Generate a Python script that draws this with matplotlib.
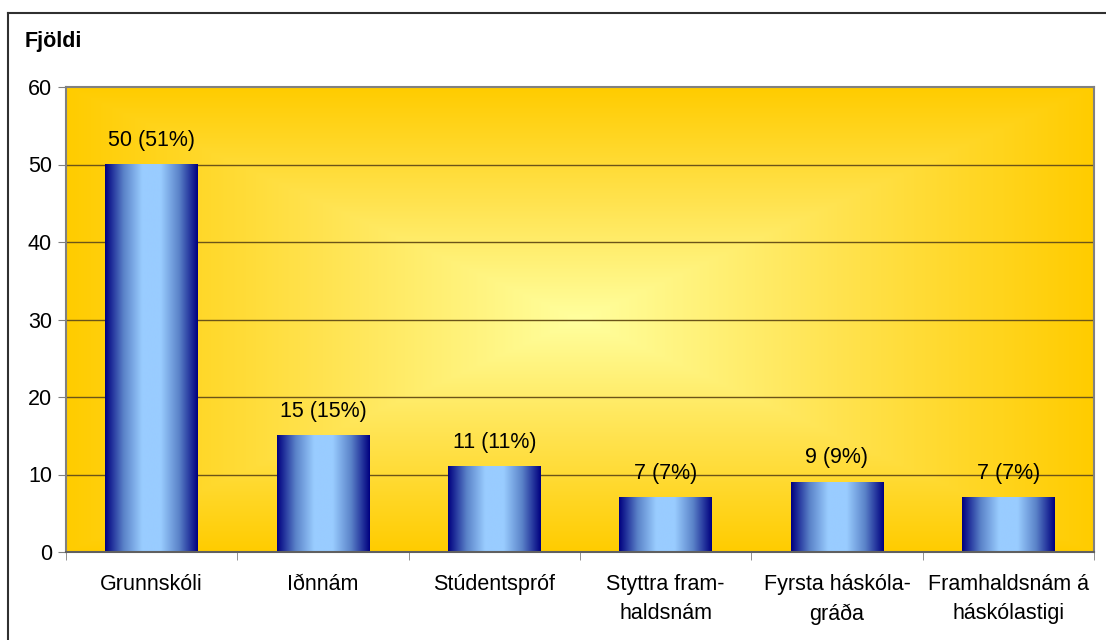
import numpy as np
import matplotlib.pyplot as plt
from matplotlib.colors import LinearSegmentedColormap
from matplotlib.lines import Line2D

plt.rcParams['font.family'] = ['Liberation Sans', 'DejaVu Sans']

categories = ["Grunnskóli", "Iðnnám", "Stúdentspróf", "Styttra fram-\nhaldsnám",
              "Fyrsta háskóla-\ngráða", "Framhaldsnám á\nháskólastigi"]
counts = [50, 15, 11, 7, 9, 7]
percents = [51, 15, 11, 7, 9, 7]
yticks = [0, 10, 20, 30, 40, 50, 60]

fs = 15.5

fig = plt.figure(figsize=(11.06, 6.4), dpi=100)
ax = fig.add_axes([66/1106, 88/640, 1028/1106, 465/640])

# outer frame (only top and left visible in the picture)
fig.add_artist(Line2D([8/1106, 8/1106], [0, 1 - 13/640], color='#303030', lw=1.5,
                      transform=fig.transFigure))
fig.add_artist(Line2D([8/1106, 1], [1 - 13/640, 1 - 13/640], color='#303030', lw=1.5,
                      transform=fig.transFigure))

n = len(categories)
x = np.arange(n)
xmin, xmax = -0.5, n - 0.5
ymin, ymax = 0, 60

# background: rectangular gradient from light yellow center to gold edges
bg_cmap = LinearSegmentedColormap.from_list("bg", ["#FFFF9E", "#FFE350", "#FFCC00"])
u = np.linspace(-1, 1, 400)
v = np.linspace(-1, 1, 300)
U, V = np.meshgrid(u, v)
T = np.maximum(np.abs(U), np.abs(V))
ax.imshow(T, cmap=bg_cmap, extent=(xmin, xmax, ymin, ymax), aspect='auto',
          origin='lower', zorder=0, interpolation='bilinear')

# gridlines
for yt in yticks[1:-1]:
    ax.axhline(yt, color='#6b5418', lw=1, zorder=1)

# bars with horizontal gradient
bar_cmap = LinearSegmentedColormap.from_list("bar", ["#000080", "#5a82c8", "#99CCFF",
                                                      "#99CCFF", "#5a82c8", "#000080"])
grad = np.linspace(0, 1, 256).reshape(1, -1)
bars = ax.bar(x, counts, width=0.54, facecolor='none', edgecolor='none', zorder=2)
for b in bars:
    x0 = b.get_x()
    ax.imshow(grad, cmap=bar_cmap, extent=(x0, x0 + b.get_width(), 0, b.get_height()),
              aspect='auto', zorder=2, interpolation='bilinear')

for xi, c, p in zip(x, counts, percents):
    ax.annotate(f"{c} ({p}%)", (xi, c), xytext=(0, 10), textcoords='offset points',
                ha='center', va='bottom', fontsize=fs, color='black', zorder=3)

ax.set_xlim(xmin, xmax)
ax.set_ylim(ymin, ymax)
ax.set_yticks(yticks)
ax.set_yticklabels([str(t) for t in yticks], fontsize=fs)
ax.set_xticks(x)
ax.set_xticklabels(categories, fontsize=fs, linespacing=1.5)
ax.tick_params(axis='x', length=0, pad=16)
ax.set_xticks(np.arange(n + 1) - 0.5, minor=True)
ax.tick_params(axis='x', which='minor', length=6, color='#808080', direction='out')
ax.tick_params(axis='y', length=6, color='#808080', direction='out', pad=4)

for s in ax.spines.values():
    s.set_color('#808080')
    s.set_linewidth(1.5)
ax.spines['bottom'].set_color('#606060')

fig.text(25/1106, 1 - 42/640, "Fjöldi", fontsize=fs, fontweight='bold', va='center')

fig.savefig("out.png", dpi=100)
